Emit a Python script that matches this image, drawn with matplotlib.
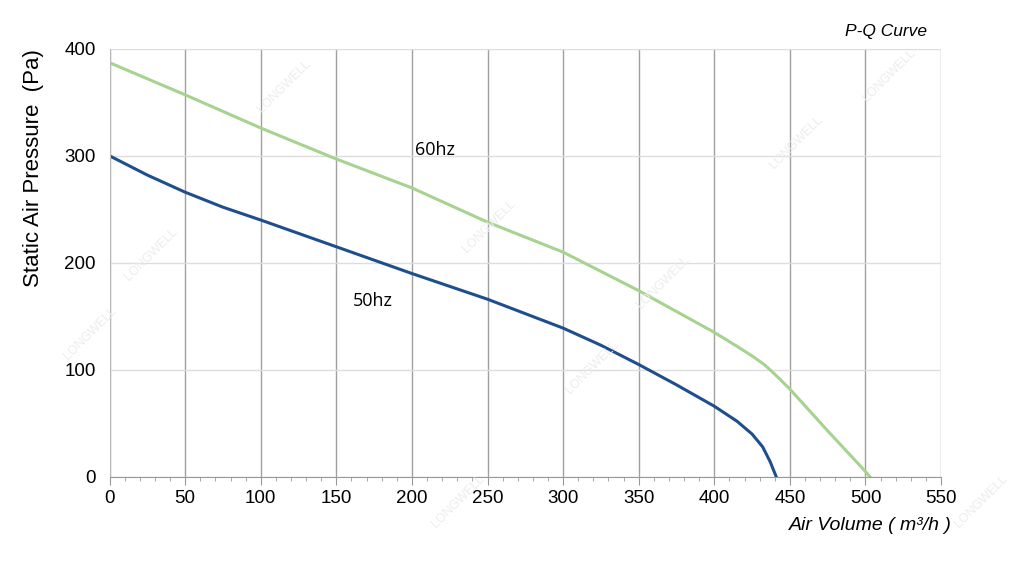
import matplotlib.pyplot as plt
from matplotlib.ticker import MultipleLocator

plt.rcParams["font.family"] = ["Liberation Sans", "DejaVu Sans"]

# 50hz curve
q50 = [0, 25, 50, 75, 100, 150, 200, 250, 300, 325, 350, 375, 400, 415, 425, 432, 437, 441]
p50 = [300, 282, 266, 252, 240, 215, 190, 166, 139, 123, 105, 86, 66, 52, 40, 28, 14, 0]
# 60hz curve
q60 = [0, 50, 100, 150, 200, 250, 300, 350, 400, 415, 425, 433, 440, 450, 475, 500, 503]
p60 = [387, 357, 326, 297, 270, 238, 210, 174, 135, 122, 113, 105, 96, 82, 43, 5, 0]

fig = plt.figure(figsize=(10.24, 5.61), dpi=100)
ax = fig.add_axes([0.107, 0.150, 0.812, 0.763])

ax.plot(q60, p60, color="#a6d38f", lw=2.2)
ax.plot(q50, p50, color="#1f4e8c", lw=2.2)

ax.set_xlim(0, 550)
ax.set_ylim(0, 400)
ax.xaxis.set_major_locator(MultipleLocator(50))
ax.xaxis.set_minor_locator(MultipleLocator(10))
ax.yaxis.set_major_locator(MultipleLocator(100))
ax.grid(axis="x", which="major", color="#a0a0a0", lw=1)
ax.grid(axis="y", which="major", color="#dddddd", lw=1)
ax.set_axisbelow(True)
for s in ["top", "right"]:
    ax.spines[s].set_visible(False)
ax.spines["left"].set_color("#bbbbbb")
ax.spines["bottom"].set_color("#999999")
ax.tick_params(axis="y", length=0, labelsize=13.5, pad=10)
ax.tick_params(axis="x", which="major", length=6, color="#999999", labelsize=13.5)
ax.tick_params(axis="x", which="minor", length=3, color="#999999")

fig.text(0.033, 0.70, "Static Air Pressure  (Pa)", fontsize=16, rotation=90,
         ha="center", va="center")
ax.text(202, 301, "60hz", fontsize=13, family="Open Sans")
ax.text(161, 160, "50hz", fontsize=13, family="Open Sans")
fig.text(0.905, 0.935, "P-Q Curve", style="italic", fontsize=12.5, ha="right")
fig.text(0.93, 0.055, "Air Volume ( m³/h )", style="italic", fontsize=14, ha="right")

# faint watermark
for x, y in [(0.06, 0.36), (0.12, 0.50), (0.25, 0.80), (0.45, 0.55), (0.55, 0.30),
             (0.62, 0.45), (0.75, 0.70), (0.84, 0.82), (0.42, 0.06), (0.93, 0.06)]:
    fig.text(x, y, "LONGWELL", rotation=45, color="#ececec", fontsize=9, zorder=0)

fig.savefig("out.png")
